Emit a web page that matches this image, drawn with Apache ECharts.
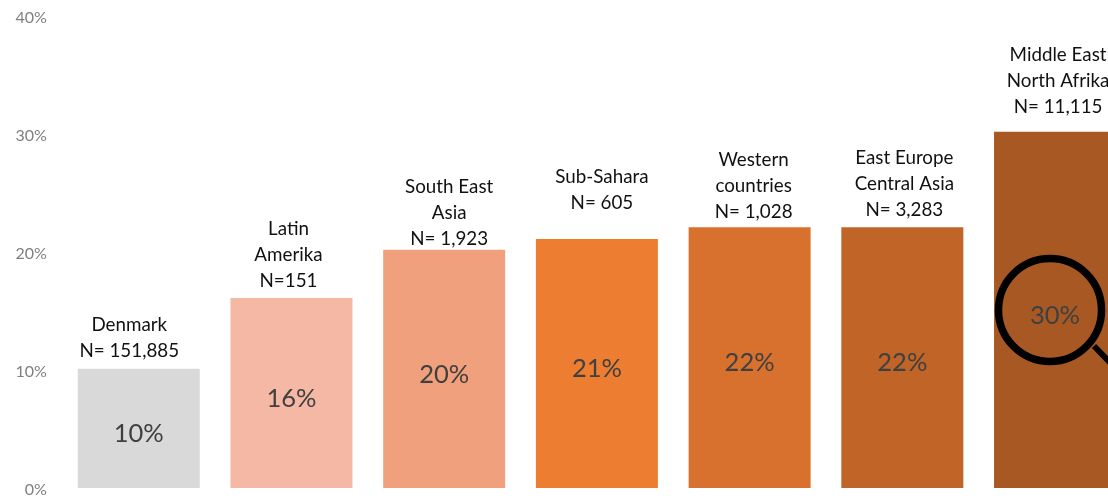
<!DOCTYPE html>
<html><head><meta charset="utf-8">
<style>html,body{margin:0;padding:0;background:#fff;overflow:hidden;width:1108px;height:498px}#c{width:1140px;height:498px}</style>
<script src="https://cdn.jsdelivr.net/npm/echarts@6/dist/echarts.min.js"></script>
</head><body><div id="c"></div>
<script>
const categories = ["Denmark","Latin Amerika","South East Asia","Sub-Sahara","Western countries","East Europe Central Asia","Middle East North Afrika"];
const headerLabels = ["Denmark\nN= 151,885","Latin\nAmerika\nN=151","South East\nAsia\nN= 1,923","Sub-Sahara\nN= 605","Western\ncountries\nN= 1,028","East Europe\nCentral Asia\nN= 3,283","Middle East\nNorth Afrika\nN= 11,115"];
const shareValues = [10.1,16.1,20.2,21.1,22.1,22.1,30.2];
const shareLabels = ["10%","16%","20%","21%","22%","22%","30%"];
const barColors = ["#d9d9d9","#f4b8a4","#f0a07c","#ed7d31","#d8712d","#c16428","#a85822"];
const headerOffsets = [[-9.5,0],[-3,1],[5,7.5],[5,-18],[4,3],[2,1],[3,-6.5]];
const FONT = "Lato";
const chart = echarts.init(document.getElementById('c'),null,{renderer:'canvas'});
chart.setOption({
  animation:false,
  grid:{left:62.4,top:16,width:1069,height:472,containLabel:false},
  xAxis:{type:'category',data:categories,axisLine:{show:false},axisTick:{show:false},axisLabel:{show:false}},
  yAxis:{type:'value',min:0,max:40,interval:10,axisLine:{show:false},axisTick:{show:false},splitLine:{show:false},
    axisLabel:{formatter:'{t|{value}%}',margin:15.5,
      rich:{t:{color:'#7f7f7f',fontFamily:FONT,fontSize:16,padding:[4,0,0,0]}}}},
  series:[
    {type:'bar',barWidth:122,barGap:'-100%',silent:true,
     data:shareValues.map((v,i)=>({value:v,itemStyle:{color:barColors[i]},
       label:{show:true,position:'inside',formatter:shareLabels[i],offset:[0,5.5],color:'#404040',fontFamily:FONT,fontSize:25.5}}))},
    {type:'bar',barWidth:122,barGap:'-100%',silent:true,itemStyle:{color:'transparent'},
     data:shareValues.map((v,i)=>({value:v,
       label:{show:true,position:'top',distance:5,offset:headerOffsets[i],formatter:headerLabels[i],align:'center',color:'#111',fontFamily:FONT,fontSize:18.8,lineHeight:26}}))}
  ],
  graphic:[
    {type:'circle',shape:{cx:1050,cy:310,r:51.5},style:{fill:'none',stroke:'#000',lineWidth:7.5},z:50},
    {type:'line',shape:{x1:1094,y1:346,x2:1125,y2:378},style:{stroke:'#000',lineWidth:6},z:50}
  ]
});
</script></body></html>
